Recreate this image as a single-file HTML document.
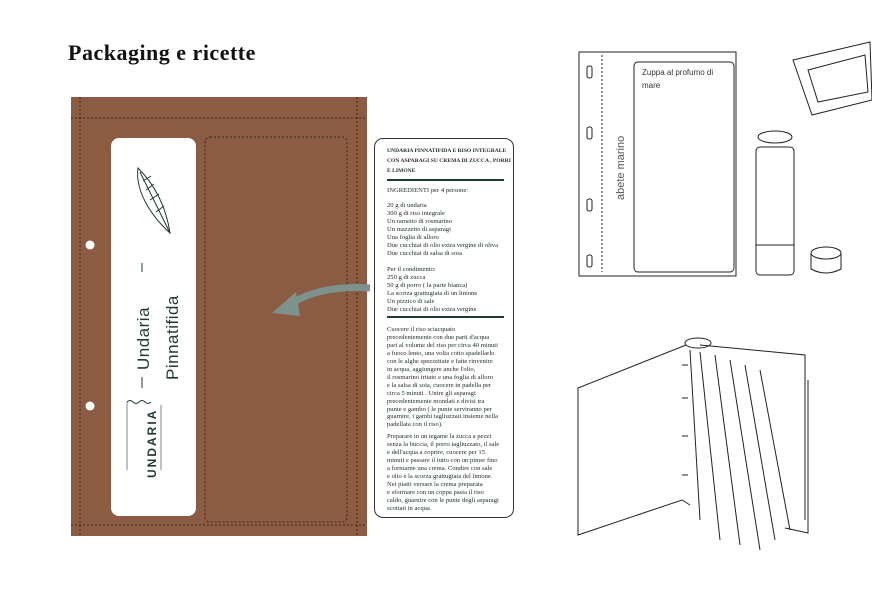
<!DOCTYPE html>
<html><head><meta charset="utf-8"><style>
body{margin:0;width:872px;height:600px;background:#fff;position:relative;overflow:hidden;font-family:"Liberation Serif",serif}
.abs{position:absolute}
h1{position:absolute;left:68px;top:40px;margin:0;font:bold 22px "Liberation Serif",serif;letter-spacing:0.5px;color:#111}
.rc{position:absolute;left:374px;top:138px;width:138px;height:378px;border:1.3px solid #333;border-radius:9px;background:#fff}
.rt{position:absolute;left:12px;font-size:6.6px;line-height:7.95px;color:#1a2a22;white-space:nowrap}
</style></head><body>
<h1>Packaging e ricette</h1>
<div class="abs" style="left:71px;top:97px;width:296px;height:439px;background:#8c5b43"></div>
<svg class="abs" style="left:0;top:0" width="872" height="600">
<g fill="none" stroke="#2a1a12" stroke-width="0.8" stroke-dasharray="2,2">
<line x1="71" y1="118" x2="367" y2="118"/>
<line x1="80" y1="97" x2="80" y2="536"/>
<line x1="357" y1="97" x2="357" y2="536"/>
<rect x="205" y="137" width="142" height="385" rx="5"/>
<line x1="71" y1="525" x2="367" y2="525"/>
</g>
<circle cx="90" cy="245" r="4.5" fill="#fff"/>
<circle cx="90" cy="406" r="4.5" fill="#fff"/>
<rect x="111" y="138" width="85" height="378" rx="8" fill="#fff"/>
<g stroke="#1f3a30" fill="none" stroke-width="1">
<path d="M170 233 C150 215 135 190 138 168 C150 180 165 200 170 233Z"/>
<path d="M170 233 L140 172 M146 190l8-6 M150 200l9-6 M156 212l8-6 M143 181l8-5"/>
<line x1="142" y1="263" x2="142" y2="272"/><line x1="142" y1="377" x2="142" y2="388"/>
<path d="M127 402 q3 -3 6 0 q3 3 6 0 q3-3 6 0 q3 3 6 0"/>
<path d="M127 402 L127 470 M161 405 L161 470" stroke-width="0.6"/>
</g>
<text transform="translate(149,370) rotate(-90)" font-family="Liberation Sans,sans-serif" font-size="17" fill="#1f3a30" letter-spacing="0.5">Undaria</text>
<text transform="translate(178,380) rotate(-90)" font-family="Liberation Sans,sans-serif" font-size="17" fill="#1f3a30" letter-spacing="0.5">Pinnatifida</text>
<text transform="translate(156,478) rotate(-90)" font-family="Liberation Sans,sans-serif" font-weight="bold" font-size="12" fill="#1f3a30" letter-spacing="2">UNDARIA</text>
<path d="M370 288 C330 285 305 295 292 303" stroke="#7d918d" stroke-width="7" fill="none"/>
<polygon points="272,313 296,292 300,316" fill="#7d918d"/>
<g fill="none" stroke="#222" stroke-width="1">
<rect x="579" y="52" width="157" height="224"/>
<rect x="634" y="62" width="100" height="210" rx="4"/>
<rect x="587" y="66" width="5" height="12" rx="2"/><rect x="587" y="127" width="5" height="12" rx="2"/><rect x="587" y="199" width="5" height="12" rx="2"/><rect x="587" y="255" width="5" height="12" rx="2"/>
<line x1="602" y1="55" x2="602" y2="272" stroke-dasharray="2,2"/>
<path d="M793 60 L870 42 L872 100 L812 115 Z"/>
<path d="M808 70 L865 55 L868 92 L818 102 Z"/>
<rect x="756" y="147" width="38" height="128" rx="4"/>
<ellipse cx="775" cy="137" rx="17" ry="6"/>
<line x1="756" y1="245" x2="794" y2="245"/>
<ellipse cx="826" cy="253" rx="15" ry="6"/><path d="M811 253 v16 q15 8 30 0 v-16"/>
<path d="M808 380 L808 533 L785 528"/>
<path d="M686 345 L578 388 L578 535 L682 500 L690 505"/>
<path d="M700 345 L805 355 L805 520"/>
<path d="M690 350 L700 520 M700 352 L720 540 M715 355 L740 545 M730 360 L760 550 M745 365 L775 540 M760 370 L790 530"/>
<ellipse cx="698" cy="343" rx="13" ry="5"/>
<path d="M682 365 h6 M682 398 h6 M682 436 h6 M682 475 h6"/>
</g>
<text x="642" y="75" font-size="8" fill="#333" font-family="Liberation Sans,sans-serif">Zuppa al profumo di</text>
<text x="642" y="88" font-size="8" fill="#333" font-family="Liberation Sans,sans-serif">mare</text>
<text transform="translate(624,200) rotate(-90)" font-size="11" fill="#555" font-family="Liberation Sans,sans-serif">abete marino</text>
</svg>
<div class="rc">
<div class="rt" style="top:7px;font-weight:bold;font-size:5.6px;line-height:10px">UNDARIA PINNATIFIDA E RISO INTEGRALE<br>CON ASPARAGI SU CREMA DI ZUCCA , PORRI<br>E LIMONE</div>
<div class="abs" style="left:12px;top:40px;width:117px;height:1.5px;background:#1f3a30"></div>
<div class="rt" style="top:48px">INGREDIENTI per 4 persone:</div>
<div class="rt" style="top:63px">20 g di undaria<br>300 g di riso integrale<br>Un rametto di rosmarino<br>Un mazzetto di asparagi<br>Una foglia di alloro<br>Due cucchiai di olio extra vergine di oliva<br>Due cucchiai di salsa di soia</div>
<div class="rt" style="top:127px">Per il condimento:<br>250 g di zucca<br>50 g di porro ( la parte bianca)<br>La scorza grattugiata di un limone<br>Un pizzico di sale<br>Due cucchiai di olio extra vergine</div>
<div class="abs" style="left:12px;top:177px;width:117px;height:1.5px;background:#1f3a30"></div>
<div class="rt" style="top:187px">Cuocere il riso sciacquato<br>precedentemente con due parti d'acqua<br>pari al volume del riso per circa 40 minuti<br>a fuoco lento, una volta cotto spadellarlo<br>con le alghe spezzettate e fatte rinvenire<br>in acqua, aggiungere anche l'olio,<br>il rosmarino tritato e una foglia di alloro<br>e la salsa di soia, cuocere in padella per<br>circa 5 minuti . Unire gli asparagi<br>precedentemente mondati e divisi tra<br>punte e gambo ( le punte serviranno per<br>guarnire, i gambi tagliuzzati insieme nella<br>padellata con il riso).</div>
<div class="rt" style="top:294px">Preparare in un tegame la zucca a pezzi<br>senza la buccia, il porro tagliuzzato, il sale<br>e dell'acqua a coprire, cuocere per 15<br>minuti e passare il tutto con un pimer fino<br>a formarne una crema. Condire con sale<br>e olio e la scorza grattugiata del limone.<br>Nei piatti versare la crema preparata<br>e sformare con un coppa pasta il riso<br>caldo, guarnire con le punte degli asparagi<br>scottati in acqua.</div>
</div>
</body></html>
